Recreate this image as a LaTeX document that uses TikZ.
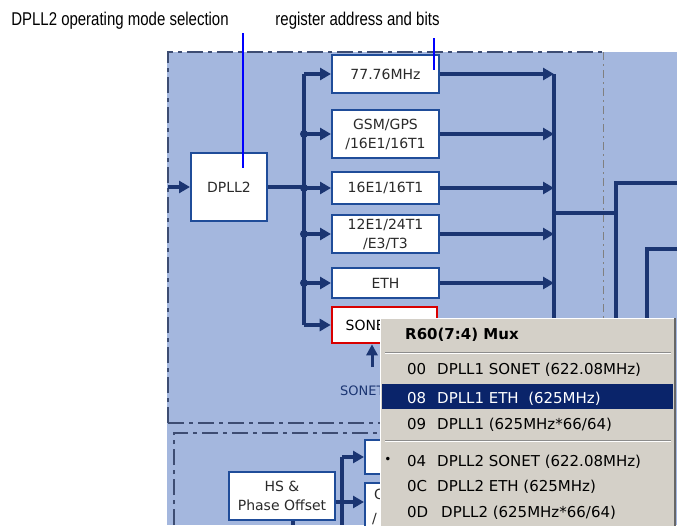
\documentclass[tikz,border=0pt]{standalone}
\usepackage{fontspec}
\setmainfont{DejaVu Sans}
\newfontfamily\lab{Liberation Sans}
\usetikzlibrary{arrows.meta}
\definecolor{bg}{HTML}{A4B7DE}
\definecolor{navy}{HTML}{1B3572}
\definecolor{bxb}{HTML}{1F4C99}
\definecolor{menubg}{HTML}{D4D0C8}
\definecolor{hil}{HTML}{0A246A}
\definecolor{dashc}{HTML}{3D4C72}
\definecolor{txt}{HTML}{2A2A2A}
\begin{document}
\begin{tikzpicture}[x=1pt,y=-1pt,
 box/.style={draw=bxb,line width=2pt,fill=white,inner sep=0pt,font=\fontsize{14}{19}\selectfont,text=txt,align=center},
 bus/.style={draw=navy,line width=3.3pt},
 arr/.style={draw=navy,line width=3.3pt,-{Triangle[length=11pt,width=12pt]}},
 frame/.style={draw=dashc,line width=1.4pt,dash pattern=on 16pt off 5pt on 4pt off 5pt},
 dot/.style={circle,fill=navy,inner sep=0pt,minimum size=8pt},
 ann/.style={draw=blue,line width=2.6pt},
 toplab/.style={anchor=base,inner sep=0pt,font=\lab\fontsize{18.5}{20}\selectfont,text=black},
 mitem/.style={anchor=base west,inner sep=0pt,font=\fontsize{15}{18}\selectfont,text=black},
]
\useasboundingbox (0,0) rectangle (683,525);
\clip (0,0) rectangle (683,525);
\fill[white] (0,0) rectangle (683,525);
\fill[bg] (167,52) rectangle (677,525);

% frames
\draw[frame] (168,423) -- (168,52) -- (603,52);
\draw[draw=gray,line width=1pt,dash pattern=on 8pt off 4pt on 2pt off 4pt] (603,52) -- (603,423);
\draw[frame] (168,423) -- (603,423);
\draw[frame] (174,525) -- (174,433) -- (603,433);

% top labels
\node[toplab] (lab1) at (120,25) {\scalebox{0.81}[1]{DPLL2 operating mode selection}};
\node[toplab] (lab2) at (357.5,25) {\scalebox{0.81}[1]{register address and bits}};

% boxes
\node[box,minimum width=76pt,minimum height=68pt] (dpll2) at (229,187) {DPLL2};
\node[box,minimum width=107pt,minimum height=38pt] (f77) at (385.5,74) {77.76MHz};
\node[box,minimum width=107pt,minimum height=48pt] (gsm) at (385.5,134) {GSM/GPS\\/16E1/16T1};
\node[box,minimum width=107pt,minimum height=32pt] (e16) at (385.5,188) {16E1/16T1};
\node[box,minimum width=107pt,minimum height=38pt] (e12) at (385.5,234) {12E1/24T1\\/E3/T3};
\node[box,minimum width=107pt,minimum height=30pt] (eth) at (385.5,283) {ETH};
\node[box,draw=red!85!black,line width=2.6pt,minimum width=105pt,minimum height=36pt,text=black] (son) at (384.5,325) {\hspace*{-30pt}SONET};

% left bus
\coordinate (in) at (168,187);
\coordinate (lbus) at (304,187);
\draw[arr] (in) -- (dpll2.west);
\draw[bus] (dpll2.east) -- (lbus);
\draw[bus] (lbus |- f77.west) -- (lbus |- son.west);
\foreach \b in {f77,gsm,e16,e12,eth,son} \draw[arr] (lbus |- \b.west) -- (\b.west);
\foreach \b in {gsm,e16,e12,eth} \node[dot] at (lbus |- \b.west) {};

% right bus
\coordinate (rbus) at (554,213);
\coordinate (rbot) at (554,525);
\foreach \b in {f77,gsm,e16,e12,eth} \draw[arr] (\b.east) -- (rbus |- \b.east);
\draw[bus] (rbus |- f77.east) -- (rbot);
\coordinate (r2a) at (616,213);
\coordinate (r2t) at (616,183);
\coordinate (r2e) at (677,183);
\coordinate (r2b) at (616,525);
\draw[bus] (rbus) -- (r2a);
\draw[bus] (r2e) -- (r2t) -- (r2b);
\coordinate (r3t) at (647,249);
\coordinate (r3e) at (677,249);
\coordinate (r3b) at (647,525);
\draw[bus] (r3e) -- (r3t) -- (r3b);

% SONET selector input
\coordinate (sup) at (372,367);
\draw[draw=navy,line width=3pt,-{Triangle[length=11pt,width=11pt]}] (sup) -- (sup |- son.south);
\node[anchor=base west,inner sep=0pt,font=\fontsize{13}{15}\selectfont,text=navy] (sonlab) at (340,395) {SONET};

% lower block
\node[box,minimum width=106pt,minimum height=48pt] (hs) at (282,496) {HS \&\\Phase Offset};
\node[box,minimum width=90pt,minimum height=34pt] (la) at (410,457) {};
\node[box,minimum width=90pt,minimum height=50pt] (lb) at (410,508) {};
\node[anchor=base west,inner sep=0pt,font=\fontsize{14}{16}\selectfont,text=txt] (lbt1) at (374,499) {G};
\node[anchor=base west,inner sep=0pt,font=\fontsize{14}{16}\selectfont,text=txt] (lbt2) at (372,523) {/};
\coordinate (lb2) at (342,502);
\coordinate (lb2b) at (342,525);
\coordinate (hsb) at (293,525);
\draw[bus] (lb2 |- la.west) -- (lb2b);
\draw[arr] (lb2 |- la.west) -- (la.west);
\draw[arr] (lb2) -- (lb2 -| lb.west);
\draw[bus] (hs.east |- lb2) -- (lb2);
\draw[bus] (hs.south -| hsb) -- (hsb);

% annotation lines
\coordinate (a1t) at (243,33);
\coordinate (a1b) at (243,168);
\coordinate (a2t) at (434,38);
\coordinate (a2b) at (434,70);
\draw[ann] (a1t) -- (a1b);
\draw[ann] (a2t) -- (a2b);

% popup menu
\fill[menubg] (380,318) rectangle (675,530);
\draw[white,line width=1pt] (380.5,530) -- (380.5,318.5) -- (675,318.5);
\draw[black!60,line width=1.2pt] (675,318) -- (675,530);
\node[anchor=base west,inner sep=0pt,font=\bfseries\fontsize{15}{18}\selectfont] (title) at (405,339) {R60(7:4) Mux};
\draw[black!45,line width=1pt] (385,352) -- (671,352);
\draw[white,line width=1pt] (385,353.5) -- (671,353.5);
\fill[hil] (382,384) rectangle (673,409);
\node[mitem] (c1) at (407,374) {00};
\node[mitem] (d1) at (437,374) {DPLL1 SONET (622.08MHz)};
\node[mitem,text=white] (c2) at (407,403) {08};
\node[mitem,text=white] (d2) at (437,403) {DPLL1 ETH\ \ (625MHz)};
\node[mitem] (c3) at (407,429) {09};
\node[mitem] (d3) at (437,429) {DPLL1 (625MHz*66/64)};
\draw[black!45,line width=1pt] (385,440) -- (671,440);
\draw[white,line width=1pt] (385,441.5) -- (671,441.5);
\node[anchor=center,inner sep=0pt,font=\fontsize{12}{14}\selectfont] (bul) at (388,460) {•};
\node[mitem] (c4) at (407,466) {04};
\node[mitem] (d4) at (437,466) {DPLL2 SONET (622.08MHz)};
\node[mitem] (c5) at (407,491) {0C};
\node[mitem] (d5) at (437,491) {DPLL2 ETH (625MHz)};
\node[mitem] (c6) at (407,517) {0D};
\node[mitem] (d6) at (441,517) {DPLL2 (625MHz*66/64)};
\end{tikzpicture}
\end{document}
